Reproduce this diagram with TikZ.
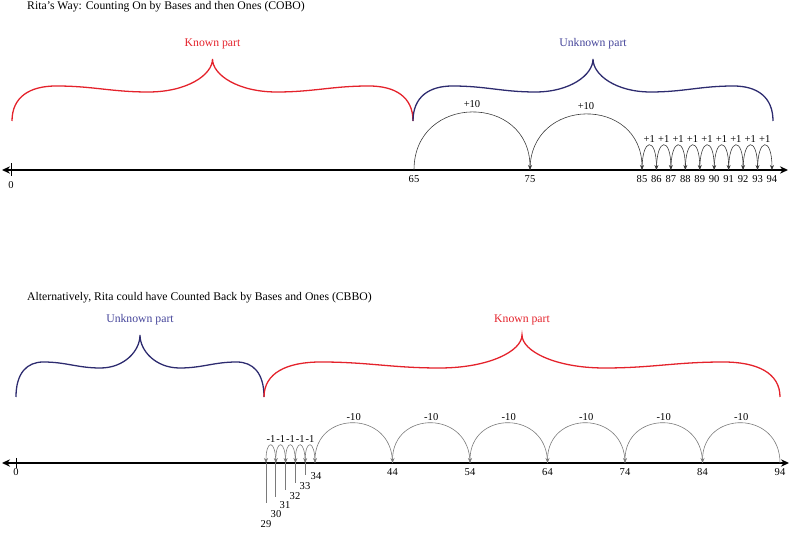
\documentclass[tikz,border=0pt]{standalone}
\usepackage{fontspec}
\setmainfont{Liberation Serif}
\usetikzlibrary{arrows.meta,positioning}
\definecolor{knownred}{HTML}{E4222B}
\definecolor{unkblue}{HTML}{2D2B6F}
\definecolor{unktext}{HTML}{45459A}
\definecolor{arcgrey}{HTML}{3A3A3A}
\definecolor{backgrey}{HTML}{7A7A7A}

\begin{document}
\begin{tikzpicture}[x=0.03cm,y=0.03cm,
  title/.style={anchor=west,inner sep=0pt},
  part/.style={inner sep=1pt},
  num/.style={font=\small,inner sep=1pt},
  lbl/.style={font=\small,inner sep=1pt,text=black},
  axis/.style={{Stealth[length=2.4mm,width=2.2mm]}-{Stealth[length=2.4mm,width=2.2mm]},line width=1.1pt},
  brace/.style={line width=1.1pt},
  jump/.style={-{Stealth[length=1.5mm,width=1.2mm]},line width=0.5pt,out=90,in=90},
  tenjump/.style={jump,draw=arcgrey,looseness=1.7},
  onejump/.style={jump,draw=arcgrey,looseness=5.9},
  backten/.style={jump,draw=backgrey,looseness=1.76},
  backone/.style={jump,draw=backgrey,looseness=6.25},
  lead/.style={draw=backgrey,line width=0.6pt}]
  \useasboundingbox (0,0) rectangle (790,537);
  % titles
  \node[title] (ttop) at (27,530) {Rita’s Way: Counting On by Bases and then Ones (COBO)};
  \node[title] (tbot) at (27,239) {Alternatively, Rita could have Counted Back by Bases and Ones (CBBO)};
  % braces with their parts
  \foreach \xl/\xr/\yb/\col/\tcol/\txt [count=\i] in
    {12/413/416/knownred/knownred/Known part, 413/773/416/unkblue/unktext/Unknown part,
     16/264/140/unkblue/unktext/Unknown part, 264/780/140/knownred/knownred/Known part}{
    \pgfmathsetmacro\brw{\xr-\xl}
    \pgfmathsetmacro\brm{(\xl+\xr)/2}
    \pgfmathsetmacro\brs{0.11*\brw}
    \pgfmathsetmacro\brd{0.34*\brw}
    \pgfmathsetmacro\bre{0.4*(\brd-\brs)}
    \pgfmathsetmacro\brc{0.6*(\brw/2-\brd)}
    \draw[brace,\col] (\xl,\yb) .. controls +(0,24) and +(-0.6*\brs,0) .. (\xl+\brs,\yb+35)
      .. controls +(\bre,0) and +(-\bre,0) .. (\xl+\brd,\yb+29)
      .. controls +(\brc,0) and +(0,-16) .. (\brm,\yb+62)
      .. controls +(0,-16) and +(-\brc,0) .. (\xr-\brd,\yb+29)
      .. controls +(\bre,0) and +(-\bre,0) .. (\xr-\brs,\yb+35)
      .. controls +(0.6*\brs,0) and +(0,24) .. (\xr,\yb);
    \node[part,text=\tcol] (part\i) at (\brm,\yb+77) {\txt};
  }
  % counting on
  \coordinate (tl) at (2,367);
  \coordinate (tr) at (788,367);
  \coordinate (t0) at (11,367);
  \coordinate (t65) at (414,367);
  \coordinate (t75) at (530,367);
  \foreach \n [count=\i from 0] in {85,...,94} \coordinate (t\n) at (642+14.44*\i,367);
  \draw[axis] (tl) -- (tr);
  \draw[line width=0.6pt] (t0) ++(0,6.5) -- ++(0,-13);
  \node[num,below=8.5pt of t0] (tn0) {0};
  \foreach \n in {65,75} \node[num,below=3.8pt of t\n] (tn\n) {\n};
  \foreach \n in {85,...,94} \node[num,below=3.8pt of t\n] (tn\n) {\n};
  \draw[tenjump] (t65) to node[lbl,midway,above=2.5pt] (tp1) {+10} (t75);
  \draw[tenjump] (t75) to node[lbl,midway,above=2.5pt] (tp2) {+10} (t85);
  \foreach \n in {85,...,93}{
    \pgfmathtruncatemacro\nxt{\n+1}
    \draw[onejump] (t\n) to node[lbl,midway,above=0.6pt] (op\n) {+1} (t\nxt);
  }
  % counting back
  \coordinate (bl) at (2,74);
  \coordinate (br) at (789,74);
  \coordinate (b0) at (16,74);
  \foreach \n [count=\i from 0] in {34,44,...,94} \coordinate (b\n) at (315+77.5*\i,74);
  \foreach \n [count=\i] in {33,32,...,29} \coordinate (b\n) at (315-9.8*\i,74);
  \draw[axis] (bl) -- (br);
  \draw[line width=0.6pt] (b0) ++(0,5) -- ++(0,-10);
  \node[num,below=3.8pt of b0] (bn0) {0};
  \foreach \n in {44,54,...,94} \node[num,below=3.8pt of b\n] (bn\n) {\n};
  \foreach \n/\len in {29/40,30/34,31/27,32/20,33/12}
    \draw[lead] (b\n) -- ++(0,-\len) coordinate (e\n);
  \foreach \n/\x/\y in {29/266/13,30/276/22.5,31/285/32,32/295/40.5,33/305/50.5,34/316/61}
    \node[num] (bn\n) at (\x,\y) {\n};
  \foreach \a/\b [count=\i] in {94/84,84/74,74/64,64/54,54/44,44/34}
    \draw[backten] (b\a) to node[lbl,midway,above=0.8pt] (mt\i) {-10} (b\b);
  \foreach \n in {34,33,...,30}{
    \pgfmathtruncatemacro\nxt{\n-1}
    \draw[backone] (b\n) to node[lbl,midway,above=0.8pt] (mo\n) {-1} (b\nxt);
  }
\end{tikzpicture}
\end{document}
